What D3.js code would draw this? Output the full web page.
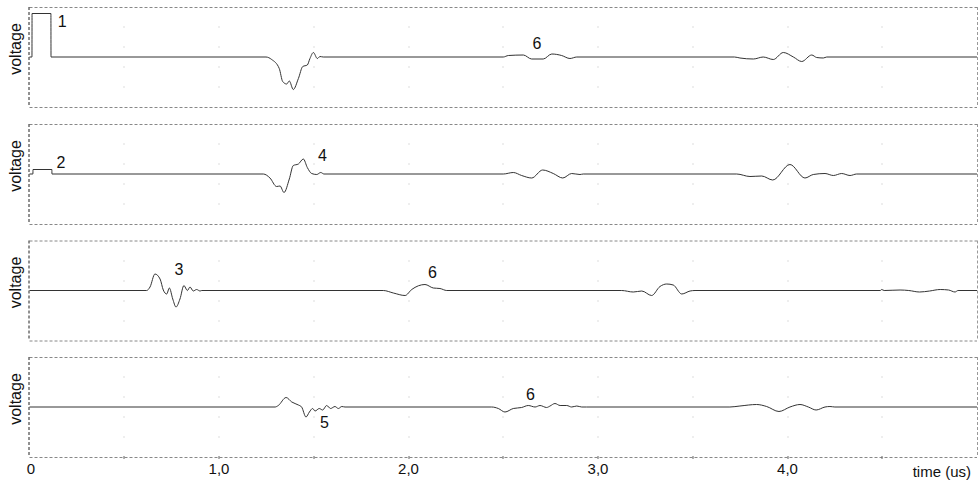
<!DOCTYPE html>
<html><head><meta charset="utf-8">
<script src="https://cdn.jsdelivr.net/npm/d3@7"></script>
<style>body{margin:0;background:#fff}svg{display:block}text{font-family:"Liberation Sans",Arial,sans-serif;fill:#111}</style>
</head><body><svg id="c" width="979" height="481"></svg>
<script>
// time axis (us)
const xTicks = [0, 1, 2, 3, 4];
const xTickLabels = ["0", "1,0", "2,0", "3,0", "4,0"];
const gridTimes = [0.5, 1, 1.5, 2, 2.5, 3, 3.5, 4, 4.5];
const gridLevels = [0.6, 0.2, -0.2, -0.6];
const yLabel = "voltage";
const xLabel = "time (us)";

// traces: [time (us), relative voltage]
const trace1 = [[0,0],[0.013,0],[0.0135,0.87],[0.113,0.87],[0.1135,0],[1.248,0],[1.278,-0.05],[1.318,-0.23],[1.336,-0.49],[1.357,-0.54],[1.371,-0.48],[1.392,-0.65],[1.419,-0.43],[1.442,-0.19],[1.466,-0.16],[1.480,-0.03],[1.498,0.09],[1.519,-0.03],[1.533,0.01],[1.55,0],
 [2.50,0],[2.527,0.03],[2.606,0.04],[2.650,-0.04],[2.711,-0.04],[2.756,0.06],[2.808,0.03],[2.852,-0.03],[2.888,0],
 [3.72,0],[3.749,-0.02],[3.82,-0.04],[3.872,0],[3.925,-0.05],[3.978,0.09],[4.031,0],[4.075,-0.09],[4.128,0.04],[4.154,-0.01],[4.189,-0.02],[4.207,0],[5,0]];
const trace2 = [[0,0],[0.018,0],[0.0185,0.09],[0.118,0.09],[0.1185,0],[1.234,0],[1.269,-0.08],[1.304,-0.25],[1.322,-0.24],[1.343,-0.37],[1.371,-0.1],[1.392,0.17],[1.419,0.2],[1.445,0.3],[1.466,0.13],[1.489,0.01],[1.516,-0.01],[1.537,0.03],[1.554,0],
 [2.50,0],[2.553,0.03],[2.597,-0.03],[2.650,-0.08],[2.708,0.08],[2.764,0.01],[2.814,-0.08],[2.861,0.01],[2.905,-0.01],[2.922,0],
 [3.732,0],[3.802,-0.05],[3.864,-0.04],[3.922,-0.12],[4.013,0.19],[4.092,-0.08],[4.136,-0.01],[4.198,0.01],[4.242,-0.03],[4.286,0.01],[4.33,-0.03],[4.365,0],[5,0]];
const trace3 = [[0,0],[0.618,0],[0.636,0.07],[0.662,0.33],[0.689,0.23],[0.706,0.01],[0.724,-0.07],[0.738,0.05],[0.756,-0.17],[0.773,-0.33],[0.794,-0.17],[0.815,0.1],[0.833,0],[0.847,0.07],[0.864,-0.01],[0.882,0.02],[0.9,-0.01],[0.909,0],
 [1.867,0],[1.920,-0.05],[1.982,-0.1],[2.017,0.02],[2.087,0.12],[2.131,0.05],[2.166,0.04],[2.202,0],
 [3.125,0],[3.186,-0.03],[3.231,-0.01],[3.283,-0.1],[3.327,0.08],[3.363,0.13],[3.397,0.11],[3.442,-0.07],[3.486,-0.01],[3.512,0],
 [4.49,0],[4.497,0.02],[4.51,0],[4.594,0.01],[4.64,0],[4.697,-0.03],[4.75,-0.01],[4.806,0.02],[4.85,0.01],[4.884,-0.03],[4.9,0],[5,0]];
const trace4 = [[0,0],[1.296,0],[1.313,0.03],[1.354,0.19],[1.384,0.1],[1.419,0.04],[1.436,0],[1.459,-0.2],[1.477,-0.1],[1.494,-0.03],[1.507,-0.08],[1.529,-0.03],[1.547,-0.06],[1.568,0.03],[1.589,-0.03],[1.612,0.01],[1.63,-0.03],[1.648,0.01],[1.665,0],
 [2.439,0],[2.474,-0.03],[2.509,-0.1],[2.553,-0.03],[2.597,-0.01],[2.632,0.03],[2.668,0],[2.694,0.03],[2.729,-0.01],[2.747,0.02],[2.773,0.07],[2.800,0.03],[2.835,0.03],[2.861,0],[2.888,0.02],[2.914,0],[2.94,0],
 [3.696,0],[3.749,0.02],[3.837,0.05],[3.89,0.01],[3.955,-0.09],[4.013,0],[4.066,0.05],[4.11,0],[4.151,-0.06],[4.198,0],[4.224,0.01],[4.25,0],[5,0]];
const traces = [trace1, trace2, trace3, trace4];

// annotation labels: [panel index, text, time, relative voltage]
const annotations = [[0,"1",0.172,0.606],[0,"6",2.678,0.154],[1,"2",0.166,0.126],[1,"4",1.546,0.27],[2,"3",0.789,0.31],[2,"6",2.127,0.256],[3,"5",1.557,-0.426],[3,"6",2.644,0.14]];

const svg = d3.select("#c");
const panelTops = [7, 124, 240.5, 357];
const panelH = 100;
const x = d3.scaleLinear().domain([0, 5]).range([29.5, 977]);

traces.forEach((tr, i) => {
  const top = panelTops[i];
  const y = d3.scaleLinear().domain([-1, 1]).range([top + panelH, top]);
  const g = svg.append("g");
  gridTimes.forEach(t => gridLevels.forEach(v => {
    g.append("rect").attr("x", Math.round(x(t)) - 0.5).attr("y", Math.round(y(v)) - 0.5)
      .attr("width", 1).attr("height", 1).attr("fill", "#bbb");
  }));
  g.append("line").attr("x1", x(0)).attr("x2", x(5)).attr("y1", top + 0.5).attr("y2", top + 0.5)
    .attr("stroke", "#888").attr("stroke-dasharray", "3,2");
  g.append("line").attr("x1", x(0)).attr("x2", x(5)).attr("y1", top + panelH + 0.5).attr("y2", top + panelH + 0.5)
    .attr("stroke", "#888").attr("stroke-dasharray", "3,2");
  g.append("line").attr("x1", x(5) + 0.5).attr("x2", x(5) + 0.5).attr("y1", top).attr("y2", top + panelH)
    .attr("stroke", "#999").attr("stroke-dasharray", "3,2");
  g.append("line").attr("x1", x(0) - 0.5).attr("x2", x(0) - 0.5).attr("y1", top).attr("y2", top + panelH)
    .attr("stroke", "#222").attr("stroke-dasharray", "3,2");
  const line = d3.line().x(d => x(d[0])).y(d => y(d[1])).curve(d3.curveMonotoneX);
  g.append("path").datum(tr).attr("d", line).attr("fill", "none")
    .attr("stroke", "#333").attr("stroke-width", 1);
  g.append("text").attr("transform", `translate(21,${top + panelH / 2 - 8}) rotate(-90)`)
    .attr("text-anchor", "middle").attr("font-size", 16).text(yLabel);
  annotations.filter(a => a[0] === i).forEach(a => {
    g.append("text").attr("x", x(a[2])).attr("y", y(a[3])).attr("text-anchor", "middle")
      .attr("font-size", 16).text(a[1]);
  });
  if (i === 3) {
    gridTimes.forEach(t => {
      g.append("rect").attr("x", Math.round(x(t)) - 0.5).attr("y", top + panelH - 1)
        .attr("width", 1).attr("height", 3).attr("fill", "#666");
    });
  }
});

svg.append("g").selectAll("text").data(xTicks).join("text")
  .attr("x", (d, i) => x(d) + (i === 0 ? 1.5 : 0)).attr("y", 474).attr("text-anchor", "middle")
  .attr("font-size", 15).text((d, i) => xTickLabels[i]);
svg.append("text").attr("x", 971).attr("y", 476.5).attr("text-anchor", "end")
  .attr("font-size", 15).text(xLabel);
</script></body></html>
